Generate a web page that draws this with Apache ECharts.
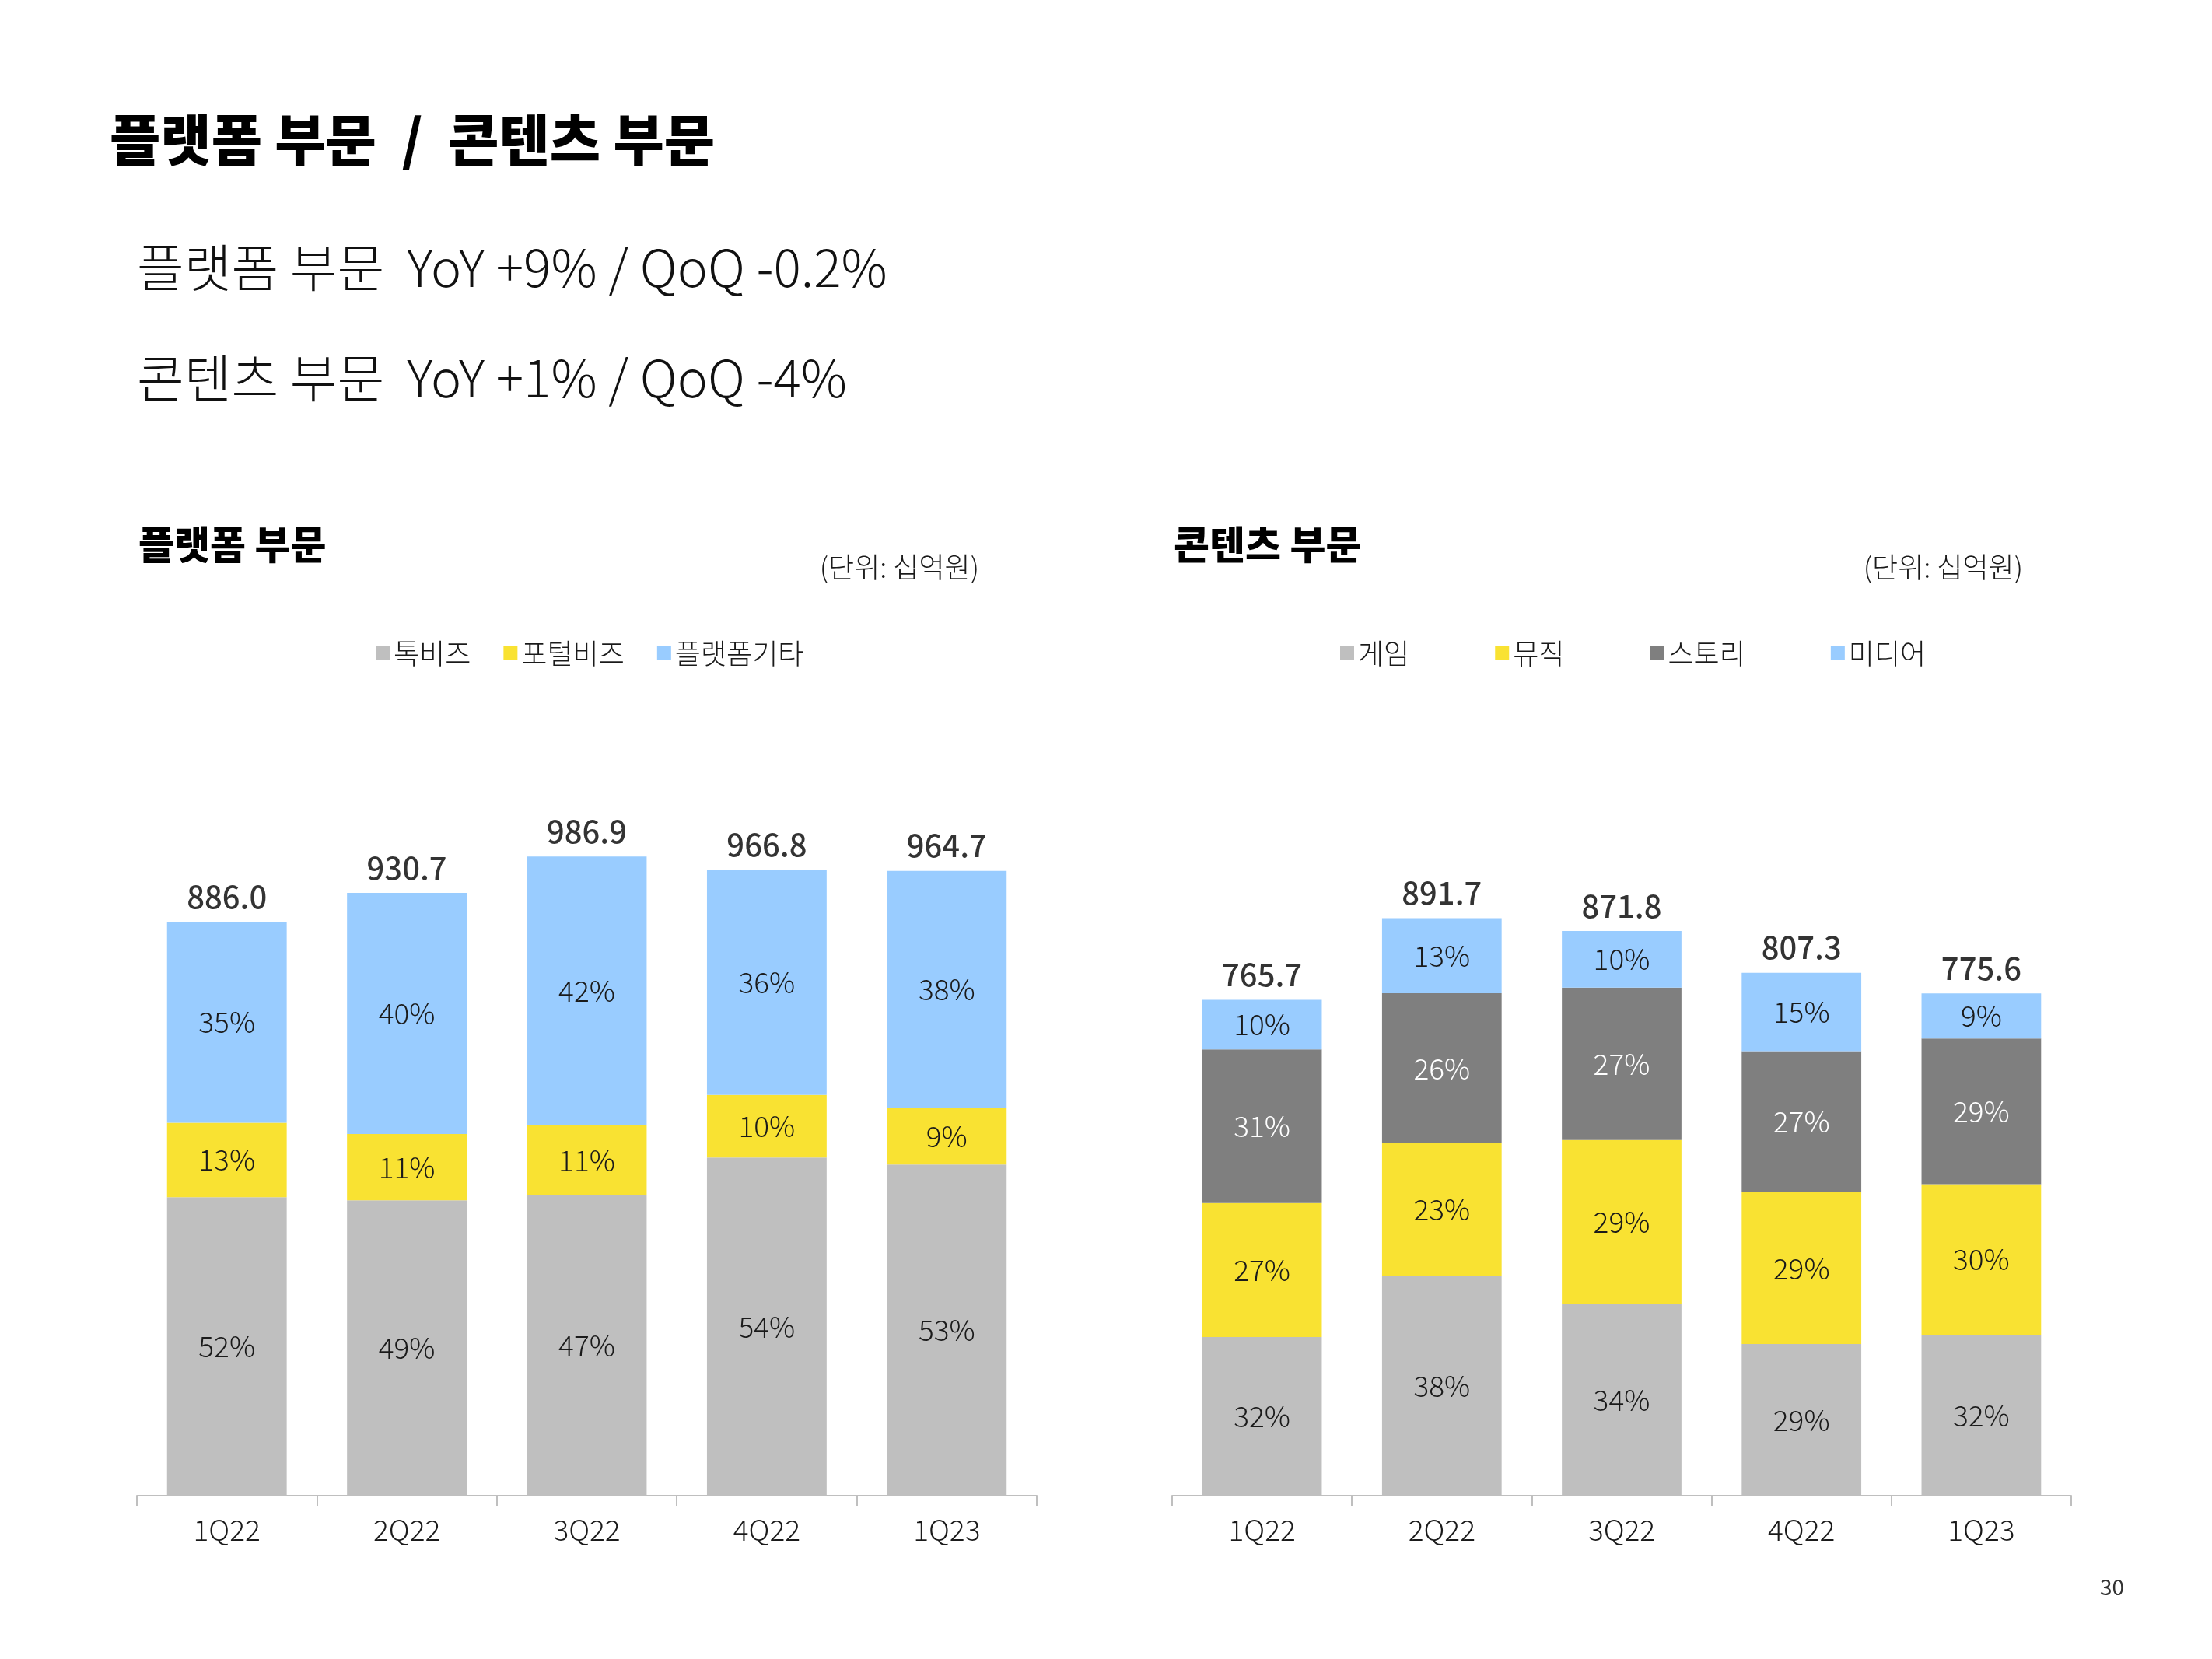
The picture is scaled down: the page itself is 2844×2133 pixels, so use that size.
<!DOCTYPE html>
<html>
<head>
<meta charset="utf-8">
<script src="https://cdn.jsdelivr.net/npm/echarts@6/dist/echarts.min.js"></script>
<style>
html,body{margin:0;padding:0;background:#fff;}
#chart{width:2844px;height:2133px;}
</style>
</head>
<body>
<div id="chart"></div>
<script>
// ---- Data ----
const quarters = ['1Q22', '2Q22', '3Q22', '4Q22', '1Q23'];

// 플랫폼 부문 (십억원)
const platformTotals = [886.0, 930.7, 986.9, 966.8, 964.7];
const talkBiz       = [460.7, 456.0, 463.8, 522.1, 511.3];
const portalBiz     = [115.2, 102.4, 108.6, 96.7, 86.8];
const platformEtc   = [310.1, 372.3, 414.5, 348.0, 366.6];
const talkBizPct     = [52, 49, 47, 54, 53];
const portalBizPct   = [13, 11, 11, 10, 9];
const platformEtcPct = [35, 40, 42, 36, 38];

// 콘텐츠 부문 (십억원)
const contentTotals = [765.7, 891.7, 871.8, 807.3, 775.6];
const game  = [245.0, 338.9, 296.4, 234.1, 248.2];
const music = [206.7, 205.1, 252.8, 234.1, 232.7];
const story = [237.4, 231.8, 235.4, 218.0, 224.9];
const media = [76.6, 115.9, 87.2, 121.1, 69.8];
const gamePct  = [32, 38, 34, 29, 32];
const musicPct = [27, 23, 29, 29, 30];
const storyPct = [31, 26, 27, 27, 29];
const mediaPct = [10, 13, 10, 15, 9];

// ---- Style ----
const FONT = '"Noto Sans CJK KR", "Noto Sans", sans-serif';
const C_LGRAY = '#BFBFBF', C_YEL = '#F9E232', C_BLUE = '#99CCFF', C_DGRAY = '#7F7F7F';

function pctLabel(pcts, color) {
  return {
    show: true, position: 'inside',
    fontFamily: FONT, fontSize: 37, fontWeight: 300, color: color,
    formatter: p => pcts[p.dataIndex] + '%'
  };
}
function barSeries(name, data, pcts, color, stack, axisIdx, lblColor) {
  return {
    name: name, type: 'bar', stack: stack, data: data,
    xAxisIndex: axisIdx, yAxisIndex: axisIdx,
    barWidth: '66.5%',
    itemStyle: { color: color },
    label: pctLabel(pcts, lblColor || '#1a1a1a'),
    emphasis: { disabled: true }
  };
}
function totalSeries(data, axisIdx) {
  return {
    type: 'scatter', data: data, xAxisIndex: axisIdx, yAxisIndex: axisIdx,
    symbolSize: 1, itemStyle: { color: 'rgba(0,0,0,0)' },
    label: {
      show: true, position: 'top', distance: 12,
      fontFamily: FONT, fontSize: 40, fontWeight: 500, color: '#000',
      formatter: p => p.value.toFixed(1)
    },
    silent: true
  };
}
function xAxis(idx) {
  return {
    type: 'category', gridIndex: idx, data: quarters,
    axisLine: { show: true, lineStyle: { color: '#BFBFBF', width: 2 } },
    axisTick: { show: true, length: 13, lineStyle: { color: '#BFBFBF', width: 2 } },
    axisLabel: { fontFamily: FONT, fontSize: 37, fontWeight: 300, color: '#1a1a1a', margin: 25 }
  };
}
function yAxis(idx) {
  return { type: 'value', gridIndex: idx, min: 0, max: 1100, show: false, splitLine: { show: false } };
}
function legend(names, left, gap) {
  return {
    data: names, left: left, top: 817, orient: 'horizontal',
    icon: 'rect', itemWidth: 18, itemHeight: 18, itemGap: gap,
    textStyle: { fontFamily: FONT, fontSize: 36, fontWeight: 300, color: '#1a1a1a' },
    selectedMode: false
  };
}

const chart = echarts.init(document.getElementById('chart'));
chart.setOption({
  backgroundColor: '#fff',
  animation: false,
  grid: [
    { left: 176, width: 1157, top: 1007, height: 916 },
    { left: 1507, width: 1156, top: 1007, height: 916 }
  ],
  xAxis: [xAxis(0), xAxis(1)],
  yAxis: [yAxis(0), yAxis(1)],
  legend: [
    legend(['톡비즈', '포털비즈', '플랫폼기타'], 478, 42),
    legend(['게임', '뮤직', '스토리', '미디어'], 1718, 110)
  ],
  graphic: [
    { type: 'text', left: 141, top: 144, style: { text: '플랫폼 부문  /  콘텐츠 부문', font: '900 71px ' + FONT, fill: '#000' } },
    { type: 'text', left: 176, top: 311, style: { text: '플랫폼 부문  YoY +9% / QoQ -0.2%', font: '300 66px ' + FONT, fill: '#111' } },
    { type: 'text', left: 176, top: 453, style: { text: '콘텐츠 부문  YoY +1% / QoQ -4%', font: '300 66px ' + FONT, fill: '#111' } },
    { type: 'text', left: 178, top: 675, style: { text: '플랫폼 부문', font: '900 50px ' + FONT, fill: '#000' } },
    { type: 'text', left: 1509, top: 675, style: { text: '콘텐츠 부문', font: '900 50px ' + FONT, fill: '#000' } },
    { type: 'text', right: 2844 - 1259, top: 711, style: { text: '(단위: 십억원)', font: '300 36px ' + FONT, fill: '#1a1a1a' } },
    { type: 'text', right: 2844 - 2601, top: 711, style: { text: '(단위: 십억원)', font: '300 36px ' + FONT, fill: '#1a1a1a' } },
    { type: 'text', right: 2844 - 2731, top: 2026, style: { text: '30', font: '400 28px ' + FONT, fill: '#333' } }
  ],
  series: [
    barSeries('톡비즈', talkBiz, talkBizPct, C_LGRAY, 'p', 0),
    barSeries('포털비즈', portalBiz, portalBizPct, C_YEL, 'p', 0),
    barSeries('플랫폼기타', platformEtc, platformEtcPct, C_BLUE, 'p', 0),
    totalSeries(platformTotals, 0),
    barSeries('게임', game, gamePct, C_LGRAY, 'c', 1),
    barSeries('뮤직', music, musicPct, C_YEL, 'c', 1),
    barSeries('스토리', story, storyPct, C_DGRAY, 'c', 1, '#ffffff'),
    barSeries('미디어', media, mediaPct, C_BLUE, 'c', 1),
    totalSeries(contentTotals, 1)
  ]
});
</script>
</body>
</html>
